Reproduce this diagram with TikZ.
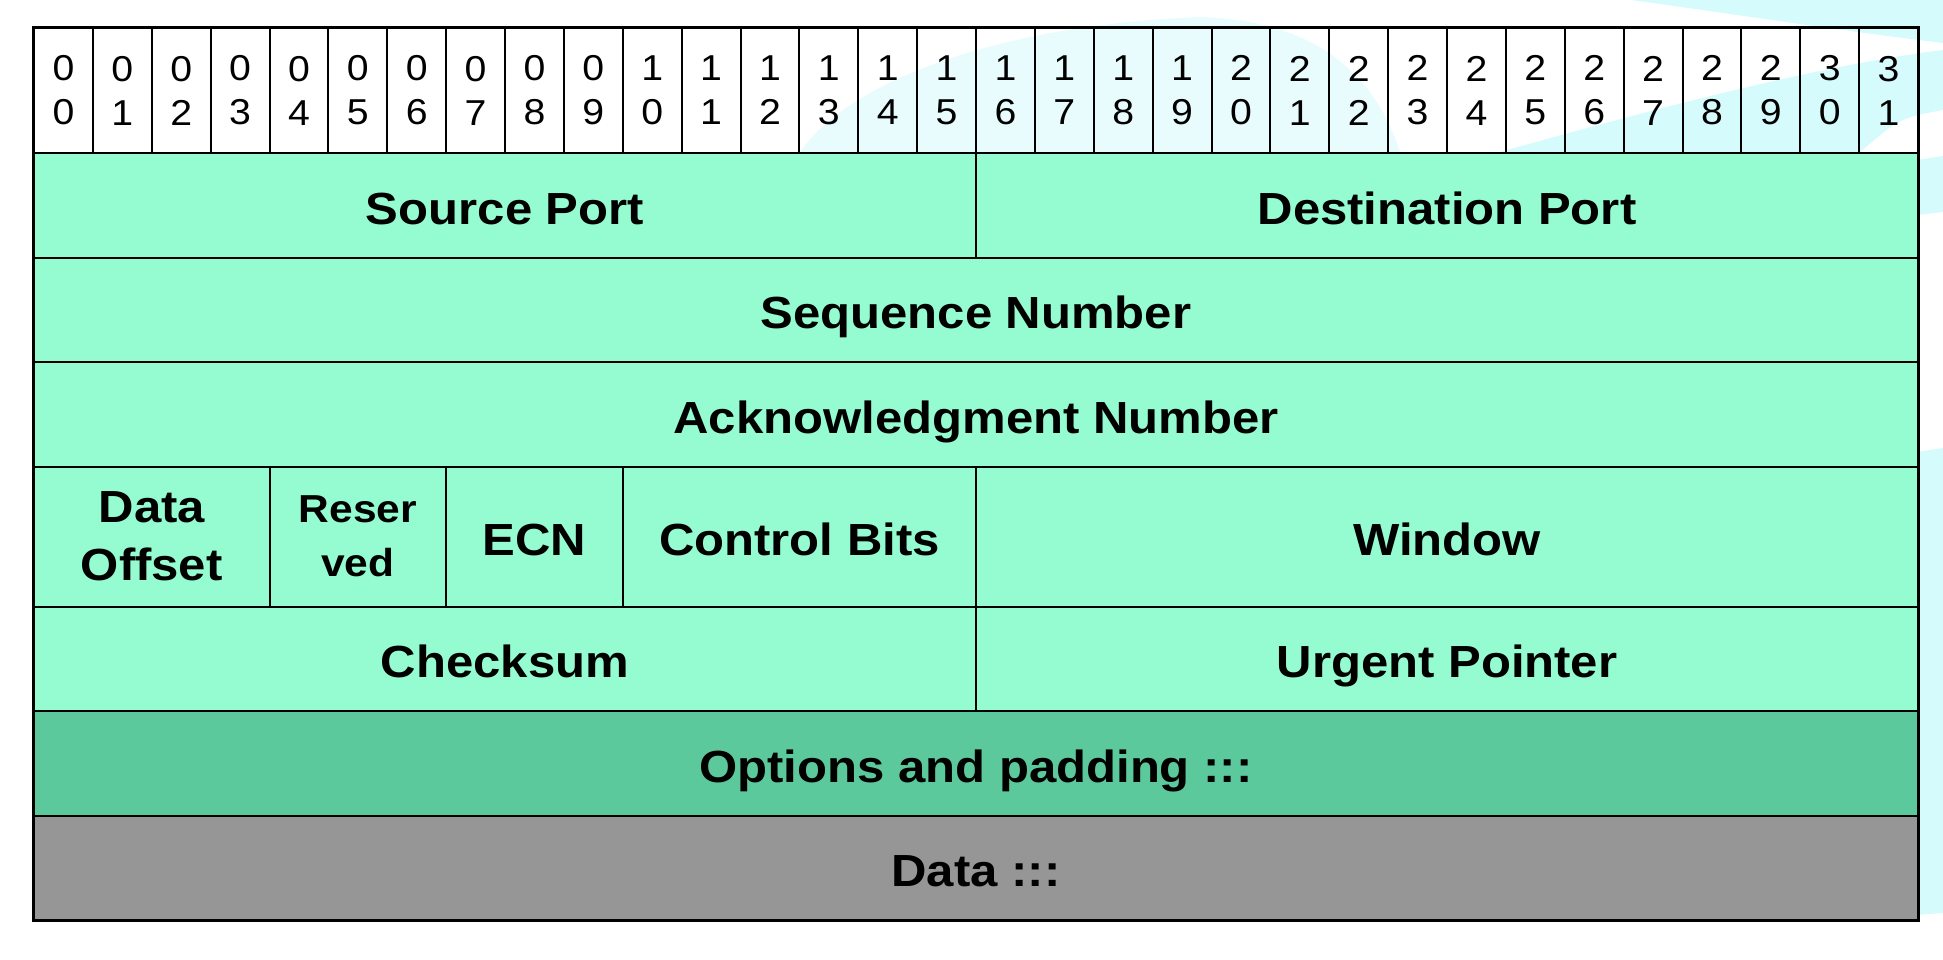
\documentclass[tikz,border=0pt]{standalone}
\usepackage{fontspec}
\setmainfont[FakeStretch=1.09]{Liberation Sans}
\definecolor{fieldgreen}{HTML}{94FCD0}
\definecolor{optgreen}{HTML}{5CC99C}
\definecolor{datagray}{HTML}{969696}
\definecolor{swirl}{HTML}{D5FBFD}
\definecolor{swirlpale}{HTML}{E8FCFD}

\begin{document}
\begin{tikzpicture}[x=0.5pt, y=-0.5pt, every node/.style={draw, line width=1pt, rectangle, inner sep=0pt, anchor=north west, align=center},%
        bitcell/.style={minimum width=29.4375pt, minimum height=62.5pt, font=\fontsize{18}{22}\selectfont},
        field/.style={fill=fieldgreen, minimum height=52.25pt, font=\fontsize{22.5}{28}\selectfont\bfseries, text height=19.2pt, text depth=0.4pt},
        tallfield/.style={fill=fieldgreen, minimum height=70pt, font=\fontsize{22.5}{29}\selectfont\bfseries}]
        \useasboundingbox (0,0) rectangle (1943,959);
        % background swirls
        \fill[swirl] (1631,0) -- (1943,0) -- (1943,43) .. controls (1820,28) and (1720,12) .. (1631,0) -- cycle;
        \fill[swirlpale] (800,152) .. controls (850,80) and (1000,25) .. (1200,17) .. controls (1300,20) and (1370,60) .. (1400,152) -- cycle;
        \fill[swirl] (1500,152) .. controls (1650,110) and (1820,65) .. (1943,50) -- (1943,110) .. controls (1900,118) .. (1860,152) -- cycle;
        \fill[swirl] (1917,160) -- (1943,156) -- (1943,212) -- (1917,215) -- cycle;
        \fill[swirl] (1917,452) -- (1943,448) -- (1943,913) -- (1917,915) -- cycle;
        % bit numbers
        \foreach \i in {0,...,31} {
            \pgfmathtruncatemacro{\tens}{\i/10}
            \pgfmathtruncatemacro{\ones}{mod(\i,10)}
            \node[bitcell] (bit\i) at ({33+\i*58.875}, 27) {\tens\\\ones};
        }
        % header fields
        \node[field, minimum width=471pt] (srcport) at (33,152) {Source Port};
        \node[field, minimum width=471pt] (dstport) at (975,152) {Destination Port};
        \node[field, minimum width=942pt] (seqnum) at (33,256.5) {Sequence Number};
        \node[field, minimum width=942pt] (acknum) at (33,361) {Acknowledgment Number};
        \node[tallfield, minimum width=117.75pt] (offset) at (33,465.5) {Data\\Offset};
        \node[tallfield, minimum width=88.3125pt, font=\fontsize{19.5}{27}\selectfont\bfseries] (reserved) at (268.5,465.5) {Reser\\ved};
        \node[field, minimum height=70pt, minimum width=88.3125pt] (ecn) at (445.125,465.5) {ECN};
        \node[field, minimum height=70pt, minimum width=176.625pt] (ctrlbits) at (621.75,465.5) {Control Bits};
        \node[field, minimum height=70pt, minimum width=471pt] (window) at (975,465.5) {Window};
        \node[field, minimum width=471pt] (checksum) at (33,605.5) {Checksum};
        \node[field, minimum width=471pt] (urgent) at (975,605.5) {Urgent Pointer};
        \node[field, fill=optgreen, minimum width=942pt] (options) at (33,710) {Options and padding :::};
        \node[field, fill=datagray, minimum width=942pt] (data) at (33,814.5) {Data :::};
        \draw[line width=1.4pt] (bit0.north west) rectangle (data.south east);
\end{tikzpicture}
\end{document}
